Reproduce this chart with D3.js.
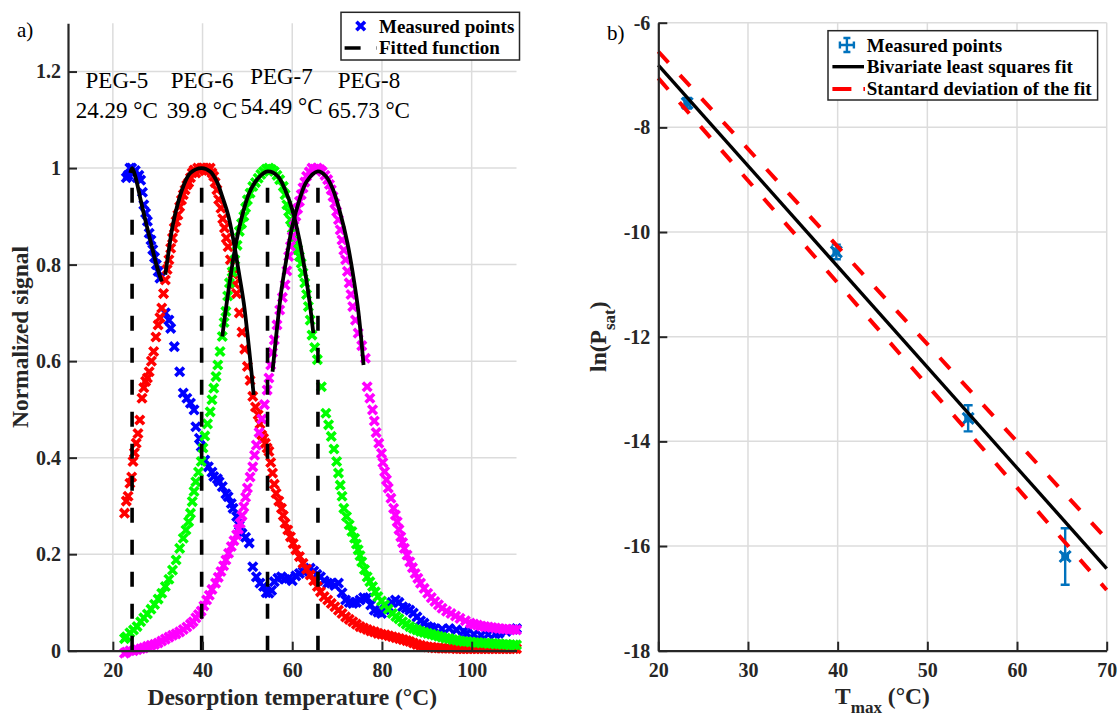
<!DOCTYPE html>
<html><head><meta charset="utf-8">
<script src="https://cdn.jsdelivr.net/npm/d3@7"></script>
<style>body{margin:0;background:#fff}svg{display:block}text{font-family:"Liberation Serif","Times New Roman",serif}</style>
</head><body>
<script>
// ---------------- DATA ----------------
const pegNames = ["PEG-5","PEG-6","PEG-7","PEG-8"];
const peakTemps = [24.29, 39.8, 54.49, 65.73];
const peakLabels = ["24.29 °C","39.8 °C","54.49 °C","65.73 °C"];
const labelX = [20.9, 39.9, 57.6, 77.1];
const labelY = [1.165, 1.165, 1.175, 1.165];
const seriesColors = ["#0000ff","#ff0000","#00ff00","#ff00ff"];

const peg5Pts = [[23.0,0.98],[23.4,0.985],[23.8,1.0],[24.2,1.0],[24.6,0.99],[25.0,0.995],[25.4,0.98],[25.8,0.985],[26.2,0.975],[26.6,0.95],[26.9,0.924],[27.3,0.907],[27.7,0.89],[28.1,0.865],[28.5,0.851],[28.9,0.831],[29.3,0.815],[29.7,0.80],[30.1,0.786],[30.5,0.772],[31.7,0.70],[32.5,0.685],[32.9,0.668],[33.7,0.63],[34.9,0.578],[35.7,0.534],[36.5,0.523],[37.3,0.513],[38.1,0.499],[38.5,0.464],[39.3,0.44],[39.7,0.423],[40.5,0.395],[41.3,0.381],[42.1,0.37],[42.5,0.361],[43.3,0.356],[43.7,0.35],[44.4,0.34],[45.2,0.325],[45.7,0.319],[46.4,0.305],[46.8,0.295],[47.6,0.278],[48.2,0.26],[48.8,0.243],[49.6,0.235],[50.4,0.223],[51.2,0.174],[52.0,0.153],[52.8,0.14],[53.6,0.133],[54.2,0.12],[54.8,0.119],[55.4,0.125],[56.0,0.143],[56.8,0.15],[57.6,0.153],[58.4,0.148],[59.2,0.15],[60.0,0.145],[60.8,0.155],[61.6,0.16],[62.4,0.164],[63.2,0.168],[64.0,0.171],[64.8,0.165],[65.5,0.158],[66.3,0.153],[67.1,0.145],[67.9,0.14],[68.7,0.14],[69.5,0.135],[70.3,0.14],[71.1,0.12],[71.9,0.105],[72.7,0.1],[73.5,0.098],[74.3,0.1],[75.1,0.105],[75.9,0.11],[76.7,0.109],[77.5,0.095],[78.3,0.084],[79.1,0.08],[79.9,0.077],[80.6,0.085],[81.4,0.091],[82.2,0.1],[83.0,0.105],[83.8,0.1],[84.6,0.091],[85.4,0.088],[86.2,0.084],[87.0,0.078],[87.8,0.07],[88.6,0.062],[89.4,0.057],[90.2,0.05],[91.0,0.048],[91.8,0.046],[93.4,0.045],[95.0,0.046],[96.6,0.043],[98.2,0.04],[98.9,0.036],[100.5,0.034],[102.1,0.032],[103.7,0.034],[105.3,0.035],[106.1,0.036],[107.7,0.04],[109.3,0.044],[110.0,0.046]];

const peg6Pts = [[22.6,0.285],[23.0,0.31],[23.4,0.32],[23.8,0.347],[24.2,0.36],[24.5,0.392],[24.8,0.41],[25.2,0.43],[25.6,0.45],[26.0,0.478],[26.5,0.523],[26.9,0.545],[27.3,0.558],[27.7,0.565],[28.1,0.578],[28.6,0.60],[29.1,0.62],[29.6,0.65],[30.1,0.675],[30.5,0.69],[30.9,0.71],[31.3,0.74],[31.7,0.768],[32.1,0.79],[32.5,0.81],[32.9,0.834],[33.3,0.855],[33.7,0.876],[34.1,0.89],[34.5,0.903],[34.9,0.92],[35.3,0.934],[35.7,0.945],[36.1,0.955],[36.5,0.965],[36.9,0.97],[37.3,0.98],[37.7,0.99],[38.1,0.996],[38.5,0.99],[38.9,1.0],[39.3,0.995],[39.7,1.0],[40.1,1.0],[40.5,0.995],[40.9,1.0],[41.3,0.995],[41.7,1.0],[42.1,0.99],[42.5,0.983],[42.8,0.97],[43.2,0.955],[43.6,0.935],[44.1,0.917],[44.5,0.895],[44.9,0.876],[45.3,0.855],[45.7,0.837],[46.2,0.81],[46.8,0.78],[47.2,0.76],[47.6,0.74],[48.2,0.70],[48.8,0.66],[49.4,0.625],[50.0,0.589],[50.6,0.56],[51.2,0.527],[51.8,0.505],[52.4,0.489],[52.8,0.47],[53.2,0.447],[53.6,0.44],[54.0,0.43],[54.4,0.42],[54.8,0.413],[55.2,0.39],[55.6,0.368],[56.0,0.345],[56.4,0.326],[57.0,0.31],[57.6,0.295],[58.0,0.28],[58.4,0.264],[59.0,0.25],[59.6,0.236],[60.2,0.222],[60.8,0.209],[61.6,0.195],[62.4,0.181],[63.2,0.169],[64.0,0.157],[64.8,0.145],[65.6,0.133],[66.3,0.122],[67.1,0.112],[67.9,0.105],[68.7,0.098],[69.5,0.091],[70.3,0.084],[71.1,0.077],[71.9,0.07],[72.7,0.065],[73.5,0.06],[74.3,0.055],[75.1,0.05],[75.9,0.047],[76.7,0.044],[77.5,0.041],[78.3,0.039],[79.1,0.036],[79.9,0.034],[80.7,0.033],[81.5,0.031],[82.3,0.029],[83.1,0.027],[83.9,0.025],[84.7,0.023],[85.5,0.021],[86.2,0.019],[87.0,0.016],[87.8,0.013],[88.6,0.011],[89.4,0.009],[90.2,0.008],[91.0,0.007],[91.8,0.006],[92.6,0.006],[93.4,0.005],[94.2,0.005],[95.0,0.005],[95.8,0.005],[96.6,0.004],[97.4,0.004],[98.2,0.004],[99.0,0.004],[99.8,0.004],[100.6,0.004],[101.4,0.004],[102.2,0.004],[103.0,0.004],[103.8,0.004],[104.6,0.004],[105.4,0.004],[106.2,0.004],[107.0,0.004],[107.8,0.004],[108.6,0.004],[109.4,0.004],[110.0,0.004]];

const peg7Pts = [[22.6,0.025],[23.0,0.029],[23.8,0.037],[24.6,0.043],[25.4,0.05],[26.2,0.06],[26.9,0.068],[27.7,0.076],[28.5,0.086],[29.3,0.096],[30.1,0.107],[30.9,0.119],[31.7,0.133],[32.5,0.148],[33.3,0.167],[34.1,0.188],[34.9,0.212],[35.7,0.233],[36.3,0.25],[36.9,0.267],[37.3,0.285],[37.7,0.309],[38.1,0.33],[38.5,0.35],[39.1,0.37],[39.7,0.392],[40.1,0.42],[40.5,0.445],[41.1,0.47],[41.7,0.495],[42.1,0.52],[42.5,0.544],[43.0,0.568],[43.4,0.592],[43.9,0.62],[44.4,0.651],[44.8,0.68],[45.2,0.703],[45.6,0.735],[46.0,0.762],[46.6,0.785],[47.2,0.81],[47.7,0.84],[48.2,0.869],[48.7,0.885],[49.2,0.90],[49.6,0.918],[50.0,0.934],[50.6,0.948],[51.2,0.962],[51.8,0.97],[52.4,0.979],[53.0,0.987],[53.6,0.993],[54.2,0.998],[54.8,1.0],[55.4,0.997],[56.0,0.993],[56.6,0.985],[57.2,0.976],[58.0,0.962],[58.4,0.945],[58.8,0.924],[59.2,0.91],[59.6,0.893],[60.0,0.875],[60.4,0.858],[60.8,0.845],[61.2,0.831],[61.6,0.817],[62.0,0.803],[62.4,0.783],[62.8,0.762],[63.2,0.738],[63.6,0.713],[64.0,0.685],[64.4,0.654],[65.0,0.628],[65.6,0.603],[66.5,0.547],[67.5,0.492],[68.1,0.468],[68.7,0.444],[69.3,0.418],[69.9,0.392],[70.3,0.368],[70.7,0.343],[71.1,0.32],[71.5,0.295],[72.1,0.278],[72.7,0.261],[73.3,0.247],[73.9,0.233],[74.3,0.221],[74.7,0.209],[75.1,0.197],[75.5,0.184],[76.1,0.168],[76.7,0.153],[77.3,0.143],[77.9,0.133],[78.5,0.122],[79.1,0.112],[79.9,0.103],[80.6,0.095],[81.4,0.086],[82.3,0.077],[83.1,0.071],[83.8,0.066],[84.6,0.06],[85.4,0.055],[86.2,0.05],[87.0,0.046],[87.8,0.043],[88.6,0.04],[89.4,0.038],[90.2,0.036],[91.0,0.034],[91.8,0.032],[92.6,0.03],[93.4,0.028],[94.2,0.026],[95.0,0.025],[95.8,0.023],[96.6,0.022],[97.4,0.02],[98.2,0.019],[99.0,0.019],[99.8,0.018],[100.6,0.017],[101.4,0.017],[102.2,0.016],[103.0,0.016],[103.8,0.015],[104.6,0.015],[105.4,0.014],[106.2,0.014],[107.0,0.013],[107.8,0.013],[108.6,0.012],[109.4,0.012],[110.0,0.012]];

const peg8Pts = [[22.6,-0.005],[23.0,-0.003],[23.8,0.0],[24.6,0.0],[25.4,0.002],[26.2,0.004],[26.9,0.006],[27.7,0.009],[28.5,0.011],[29.3,0.013],[30.1,0.016],[30.9,0.02],[31.7,0.024],[32.5,0.028],[33.3,0.032],[34.1,0.035],[34.9,0.039],[35.7,0.044],[36.5,0.049],[37.3,0.055],[37.9,0.06],[38.5,0.068],[39.1,0.075],[39.7,0.082],[40.3,0.093],[40.9,0.105],[41.5,0.115],[42.1,0.127],[42.9,0.14],[43.5,0.152],[44.1,0.164],[44.7,0.176],[45.2,0.188],[45.8,0.202],[46.4,0.216],[47.0,0.228],[47.6,0.24],[48.0,0.252],[48.4,0.264],[48.8,0.28],[49.2,0.298],[49.6,0.318],[50.0,0.337],[50.6,0.36],[51.2,0.381],[51.6,0.405],[52.0,0.426],[52.6,0.452],[53.2,0.48],[53.8,0.51],[54.4,0.54],[54.8,0.565],[55.2,0.592],[55.6,0.618],[56.0,0.644],[56.6,0.675],[57.2,0.706],[57.8,0.732],[58.4,0.758],[58.8,0.787],[59.2,0.817],[59.6,0.838],[60.0,0.858],[60.4,0.88],[60.8,0.90],[61.2,0.916],[61.6,0.931],[62.0,0.945],[62.4,0.959],[62.8,0.971],[63.2,0.983],[63.8,0.992],[64.4,1.0],[65.0,0.998],[65.6,1.0],[66.2,0.997],[66.7,0.993],[67.3,0.985],[67.9,0.976],[68.3,0.966],[68.7,0.955],[69.1,0.941],[69.5,0.927],[69.9,0.91],[70.3,0.893],[70.7,0.872],[71.1,0.851],[71.5,0.83],[71.9,0.81],[72.3,0.786],[72.7,0.762],[73.1,0.738],[73.5,0.713],[74.1,0.685],[74.7,0.658],[75.5,0.632],[76.3,0.606],[76.7,0.547],[77.3,0.523],[77.9,0.499],[78.3,0.476],[78.7,0.452],[79.3,0.43],[79.9,0.409],[80.2,0.39],[80.6,0.371],[81.0,0.354],[81.4,0.337],[82.0,0.316],[82.6,0.295],[83.0,0.281],[83.4,0.267],[83.8,0.251],[84.2,0.236],[84.6,0.224],[85.0,0.212],[85.6,0.198],[86.2,0.184],[86.8,0.172],[87.4,0.16],[88.0,0.15],[88.6,0.14],[89.4,0.129],[90.2,0.119],[91.0,0.11],[91.8,0.102],[92.6,0.095],[93.4,0.088],[94.4,0.082],[95.4,0.077],[96.4,0.072],[97.4,0.067],[98.6,0.062],[99.7,0.057],[100.5,0.055],[101.3,0.053],[102.1,0.051],[102.9,0.05],[103.7,0.049],[104.5,0.048],[105.3,0.047],[106.1,0.046],[106.9,0.045],[107.7,0.045],[108.5,0.044],[109.3,0.044],[110.0,0.043]];

const fit5Pts = [[23.9,0.99],[24.3,1.0],[25.0,0.983],[26.2,0.934],[27.3,0.89],[28.5,0.845],[29.7,0.8],[30.9,0.765]];
const fit6Pts = [[31.7,0.779],[32.5,0.831],[33.3,0.879],[34.5,0.927],[35.7,0.962],[37.3,0.99],[39.8,1.0],[41.7,0.993],[43.2,0.972],[44.4,0.941],[45.7,0.903],[46.8,0.855],[48.0,0.789],[49.2,0.72],[50.4,0.623],[51.4,0.53]];
const fit7Pts = [[44.4,0.651],[45.7,0.741],[47.2,0.831],[48.8,0.9],[50.4,0.948],[52.4,0.979],[54.5,0.993],[56.8,0.983],[58.4,0.955],[60.0,0.914],[61.6,0.851],[62.8,0.789],[63.9,0.72],[64.7,0.658]];
const fit8Pts = [[55.6,0.578],[56.4,0.651],[57.6,0.748],[58.8,0.817],[60.0,0.879],[61.6,0.934],[63.2,0.972],[65.7,0.993],[67.5,0.983],[69.1,0.955],[70.7,0.907],[72.3,0.845],[73.5,0.782],[74.7,0.706],[75.9,0.592]];
const dashTop = 0.97;

const yTicksL = [0,0.2,0.4,0.6,0.8,1,1.2];
const xTicksL = [20,40,60,80,100];

// right panel
const tmax = [23.22, 39.85, 54.55, 65.37];
const lnPsat = [-7.54, -10.38, -13.56, -16.2];
const lnPsatErr = [0.1, 0.14, 0.25, 0.54];
const tmaxErr = [0.3, 0.3, 0.3, 0.3];
const fitLine = [[20,-6.81],[70,-16.43]];
const fitUpper = [[20,-6.55],[70,-15.87]];
const fitLower = [[20,-7.06],[70,-16.84]];
const xTicksR = [20,30,40,50,60,70];
const yTicksR = [-18,-16,-14,-12,-10,-8,-6];

// ---------------- DRAW ----------------
const AX = "#262626", GRID = "#dcdcdc";
const svg = d3.select("body").append("svg").attr("width",1120).attr("height",719);

function xMark(s){ return `M${-s},${-s}L${s},${s}M${-s},${s}L${s},${-s}`; }

// LEFT
const xL = d3.scaleLinear([10,110],[68,516.5]);
const yL = d3.scaleLinear([0,1.3],[650.7,23.3]);
const gL = svg.append("g");
gL.selectAll(".gx").data(xTicksL).join("line").attr("x1",d=>xL(d)).attr("x2",d=>xL(d))
  .attr("y1",yL(0)).attr("y2",yL(1.3)).attr("stroke",GRID).attr("stroke-width",1.5);
gL.selectAll(".gy").data(yTicksL.filter(d=>d>0)).join("line").attr("y1",d=>yL(d)).attr("y2",d=>yL(d))
  .attr("x1",xL(10)).attr("x2",xL(110)).attr("stroke",GRID).attr("stroke-width",1.5);

const allSeries = [peg5Pts, peg6Pts, peg7Pts, peg8Pts];
allSeries.forEach((pts,i)=>{
  gL.append("g").selectAll("path").data(pts).join("path")
    .attr("transform",d=>`translate(${xL(d[0])},${yL(d[1])})`)
    .attr("d",xMark(4.3)).attr("stroke",seriesColors[i]).attr("stroke-width",3.6).attr("fill","none");
});
const lineL = d3.line().x(d=>xL(d[0])).y(d=>yL(d[1])).curve(d3.curveCatmullRom);
[fit5Pts,fit6Pts,fit7Pts,fit8Pts].forEach(f=>{
  gL.append("path").attr("d",lineL(f)).attr("fill","none").attr("stroke","#000").attr("stroke-width",3.8);
});
gL.selectAll(".vl").data(peakTemps).join("line").attr("x1",d=>xL(d)).attr("x2",d=>xL(d))
  .attr("y1",yL(0)).attr("y2",yL(dashTop)).attr("stroke","#000").attr("stroke-width",3.6)
  .attr("stroke-dasharray","15,17");

const axL = gL.append("g").attr("transform",`translate(${xL(10)},0)`)
  .call(d3.axisLeft(yL).tickValues(yTicksL).tickFormat(d3.format("~g")).tickSizeInner(-9).tickSizeOuter(0).tickPadding(7));
const axB = gL.append("g").attr("transform",`translate(0,${yL(0)})`)
  .call(d3.axisBottom(xL).tickValues(xTicksL).tickFormat(d3.format("d")).tickSizeInner(-9).tickSizeOuter(0).tickPadding(12));
[axL,axB].forEach(a=>{
  a.select(".domain").attr("stroke",AX).attr("stroke-width",2.2);
  a.selectAll(".tick line").attr("stroke",AX).attr("stroke-width",2);
  a.selectAll("text").attr("fill",AX).style("font-family","'Liberation Serif',serif").style("font-size","20px").style("font-weight","bold");
});
pegNames.forEach((n,i)=>{
  const t = gL.append("text").attr("x",xL(labelX[i])).attr("y",yL(labelY[i])).attr("text-anchor","middle")
    .style("font-size","23px").attr("fill","#000");
  t.append("tspan").attr("x",xL(labelX[i])).text(n);
  t.append("tspan").attr("x",xL(labelX[i])).attr("dy",30).text(peakLabels[i]);
});
gL.append("text").attr("x",(xL(10)+xL(110))/2).attr("y",705).attr("text-anchor","middle")
  .style("font-size","23.5px").style("font-weight","bold").attr("fill",AX).text("Desorption temperature (°C)");
gL.append("text").attr("transform",`translate(28,${(yL(0)+yL(1.3))/2}) rotate(-90)`).attr("text-anchor","middle")
  .style("font-size","23.5px").style("font-weight","bold").attr("fill",AX).text("Normalized signal");
gL.append("text").attr("x",17).attr("y",37).style("font-size","21px").attr("fill","#000").text("a)");
const lgL = gL.append("g");
lgL.append("rect").attr("x",341).attr("y",12.3).attr("width",178.5).attr("height",47.7).attr("fill","#fff").attr("stroke",AX).attr("stroke-width",1.5);
lgL.append("path").attr("transform","translate(360.7,26)").attr("d",xMark(4.3)).attr("stroke","#0000ff").attr("stroke-width",3.6).attr("fill","none");
lgL.append("line").attr("x1",344.6).attr("x2",377).attr("y1",48).attr("y2",48).attr("stroke","#000").attr("stroke-width",3.6).attr("stroke-dasharray","16,16");
lgL.append("text").attr("x",379).attr("y",32.5).style("font-size","19px").style("font-weight","bold").text("Measured points");
lgL.append("text").attr("x",379).attr("y",53.5).style("font-size","19px").style("font-weight","bold").text("Fitted function");

// RIGHT
const xR = d3.scaleLinear([20,70],[658.3,1106.7]);
const yR = d3.scaleLinear([-18,-6],[650.7,22.7]);
const gR = svg.append("g");
gR.selectAll(".gx").data(xTicksR.filter(d=>d>20)).join("line").attr("x1",d=>xR(d)).attr("x2",d=>xR(d))
  .attr("y1",yR(-18)).attr("y2",yR(-6)).attr("stroke",GRID).attr("stroke-width",1.5);
gR.selectAll(".gy").data(yTicksR.filter(d=>d>-18)).join("line").attr("y1",d=>yR(d)).attr("y2",d=>yR(d))
  .attr("x1",xR(20)).attr("x2",xR(70)).attr("stroke",GRID).attr("stroke-width",1.5);

const EB = "#0072BD";
const pts = tmax.map((t,i)=>({x:t,y:lnPsat[i],ey:lnPsatErr[i],ex:tmaxErr[i]}));
const eb = gR.append("g").attr("stroke",EB).attr("stroke-width",2.4).attr("fill","none");
pts.forEach(p=>{
  const cx=xR(p.x), cy=yR(p.y), c=4.5;
  const y1=yR(p.y-p.ey), y2=yR(p.y+p.ey), x1=xR(p.x-p.ex), x2=xR(p.x+p.ex);
  eb.append("path").attr("d",`M${cx},${y1}L${cx},${y2}M${cx-c},${y1}L${cx+c},${y1}M${cx-c},${y2}L${cx+c},${y2}`);
  eb.append("path").attr("d",`M${x1},${cy}L${x2},${cy}M${x1},${cy-c}L${x1},${cy+c}M${x2},${cy-c}L${x2},${cy+c}`);
  eb.append("path").attr("transform",`translate(${cx},${cy})`).attr("d",xMark(5.5)).attr("stroke-width",3);
});
const lineR = d3.line().x(d=>xR(d[0])).y(d=>yR(d[1]));
gR.append("path").attr("d",lineR(fitLine)).attr("stroke","#000").attr("stroke-width",3.4).attr("fill","none");
[fitUpper,fitLower].forEach(f=>gR.append("path").attr("d",lineR(f)).attr("stroke","#ff0000").attr("stroke-width",4)
  .attr("fill","none").attr("stroke-dasharray","15,17"));

const axRL = gR.append("g").attr("transform",`translate(${xR(20)},0)`)
  .call(d3.axisLeft(yR).tickValues(yTicksR).tickFormat(d=>String(d)).tickSizeInner(-9).tickSizeOuter(0).tickPadding(8));
const axRB = gR.append("g").attr("transform",`translate(0,${yR(-18)})`)
  .call(d3.axisBottom(xR).tickValues(xTicksR).tickFormat(d3.format("d")).tickSizeInner(-9).tickSizeOuter(0).tickPadding(12));
[axRL,axRB].forEach(a=>{
  a.select(".domain").attr("stroke",AX).attr("stroke-width",2.2);
  a.selectAll(".tick line").attr("stroke",AX).attr("stroke-width",2);
  a.selectAll("text").attr("fill",AX).style("font-family","'Liberation Serif',serif").style("font-size","20px").style("font-weight","bold");
});

const xt = gR.append("text").attr("x",(xR(20)+xR(70))/2).attr("y",704).attr("text-anchor","middle")
  .style("font-size","23.5px").style("font-weight","bold").attr("fill",AX);
xt.append("tspan").text("T");
xt.append("tspan").attr("dy",9).style("font-size","17px").text("max");
xt.append("tspan").attr("dy",-9).text(" (°C)");
const yt = gR.append("text").attr("transform",`translate(606,${(yR(-18)+yR(-6))/2}) rotate(-90)`).attr("text-anchor","middle")
  .style("font-size","23.5px").style("font-weight","bold").attr("fill",AX);
yt.append("tspan").text("ln(P");
yt.append("tspan").attr("dy",9).style("font-size","17px").text("sat");
yt.append("tspan").attr("dy",-9).text(")");
gR.append("text").attr("x",607).attr("y",40).style("font-size","21px").attr("fill","#000").text("b)");

const lgR = gR.append("g");
lgR.append("rect").attr("x",828).attr("y",30.7).attr("width",269.6).attr("height",69.3).attr("fill","#fff").attr("stroke",AX).attr("stroke-width",1.5);
{
  const cx=846.9, cy=45, h=7, c=3.5;
  lgR.append("path").attr("stroke",EB).attr("stroke-width",2.4).attr("fill","none")
    .attr("d",`M${cx},${cy-h}L${cx},${cy+h}M${cx-c},${cy-h}L${cx+c},${cy-h}M${cx-c},${cy+h}L${cx+c},${cy+h}M${cx-h},${cy}L${cx+h},${cy}M${cx-h},${cy-c}L${cx-h},${cy+c}M${cx+h},${cy-c}L${cx+h},${cy+c}`);
}
lgR.append("line").attr("x1",832.4).attr("x2",864).attr("y1",66.7).attr("y2",66.7).attr("stroke","#000").attr("stroke-width",3.4);
lgR.append("line").attr("x1",832.4).attr("x2",865).attr("y1",89).attr("y2",89).attr("stroke","#ff0000").attr("stroke-width",4).attr("stroke-dasharray","19,12");
const legR = ["Measured points","Bivariate least squares fit","Stantard deviation of the fit"];
const legRy = [51.5, 72.8, 95.2];
legR.forEach((t,i)=>lgR.append("text").attr("x",866.8).attr("y",legRy[i]).style("font-size","19px").style("font-weight","bold").text(t));
</script>
</body></html>
